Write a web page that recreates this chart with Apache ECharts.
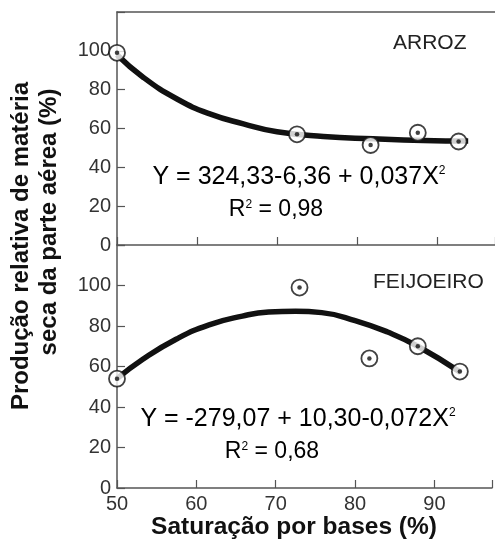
<!DOCTYPE html>
<html>
<head>
<meta charset="utf-8">
<script src="https://cdn.jsdelivr.net/npm/echarts@6/dist/echarts.min.js"></script>
<style>html,body{margin:0;padding:0;background:#fff;}#c{width:495px;height:544px;}</style>
</head>
<body>
<div id="c"></div>
<script>
// Observed points
var arrozX = [50, 72.5, 81.7, 87.6, 92.7];
var arrozY = [99, 57, 51.5, 57.8, 53.3];
var feijX = [50, 73, 81.8, 87.9, 93.2];
var feijY = [54, 99, 64, 70, 57.5];
// Fitted curves
var arrozCurveX = [50, 53.3, 57.5, 61.6, 65.8, 70, 75.8, 82, 88.3, 93.9];
var arrozCurveY = [98, 86.3, 75.2, 67.5, 62.4, 58.3, 55.9, 54.7, 53.8, 53.5];
var feijCurveX = [50, 53.3, 57.5, 61.6, 65.8, 69.1, 72.5, 75.8, 80, 84.1, 87.9, 93.3];
var feijCurveY = [54, 63.7, 73.6, 80.6, 84.9, 86.9, 87.3, 86.6, 82.7, 77, 70, 57.1];
var xTicks = [50, 60, 70, 80, 90];
var yTicks = [0, 20, 40, 60, 80, 100];

function pairs(xs, ys) { return xs.map(function (x, i) { return [x, ys[i]]; }); }

var axisColor = '#555';
var font = 'Liberation Sans';
var chart = echarts.init(document.getElementById('c'));

function yAx(grid) {
  return {
    type: 'value', gridIndex: grid, min: 0, max: 120, interval: 20,
    axisLine: { show: true, lineStyle: { color: axisColor, width: 1.5 } },
    axisTick: { show: true, inside: true, length: 8, lineStyle: { color: axisColor, width: 1.2 } },
    axisLabel: { margin: 6, color: '#333', fontFamily: font, fontSize: 20,
      formatter: function (v) { return yTicks.indexOf(v) >= 0 ? String(v) : ''; } },
    splitLine: { show: false }
  };
}
function xAx(grid, pos, labels, ticks) {
  return {
    type: 'value', gridIndex: grid, position: pos, min: 50, max: 97.25, interval: 10,
    axisLine: { show: true, onZero: false, lineStyle: { color: axisColor, width: 1.5 } },
    axisTick: { show: ticks, inside: true, length: 8, lineStyle: { color: axisColor, width: 1.2 } },
    axisLabel: { show: labels, margin: 6, color: '#333', fontFamily: font, fontSize: 20,
      formatter: function (v) { return xTicks.indexOf(v) >= 0 ? String(v) : ''; } },
    splitLine: { show: false }
  };
}

function markerSeries(xi, yi, data) {
  return [{
    type: 'scatter', xAxisIndex: xi, yAxisIndex: yi, data: data, symbol: 'circle', symbolSize: 16,
    itemStyle: { color: '#fff', borderColor: '#111', borderWidth: 1.8 }, z: 5, silent: true
  }, {
    type: 'scatter', xAxisIndex: xi, yAxisIndex: yi, data: data, symbol: 'circle', symbolSize: 4.5,
    itemStyle: { color: '#111' }, z: 6, silent: true
  }];
}

var richA = { fontFamily: font, fontSize: 25, color: '#222' };
var richR = { fontFamily: font, fontSize: 23, color: '#222' };
var richS = { fontFamily: font, fontSize: 12, verticalAlign: 'top', color: '#222' };

var option = {
  animation: false,
  backgroundColor: '#fff',
  grid: [
    { left: 117, width: 378, top: 12, height: 233 },
    { left: 117, width: 378, top: 245, height: 243 }
  ],
  xAxis: [xAx(0, 'bottom', false, true), xAx(0, 'top', false, false), xAx(1, 'bottom', true, true)],
  yAxis: [yAx(0), yAx(1)],
  series: [
    { type: 'line', xAxisIndex: 0, yAxisIndex: 0, data: pairs(arrozCurveX, arrozCurveY), smooth: true,
      showSymbol: false, lineStyle: { color: '#111', width: 5.5 }, z: 3, silent: true },
    { type: 'line', xAxisIndex: 2, yAxisIndex: 1, data: pairs(feijCurveX, feijCurveY), smooth: true,
      showSymbol: false, lineStyle: { color: '#111', width: 5.5 }, z: 3, silent: true }
  ].concat(markerSeries(0, 0, pairs(arrozX, arrozY)), markerSeries(2, 1, pairs(feijX, feijY))),
  graphic: [
    { type: 'text', left: 393, top: 33, style: { text: 'ARROZ', font: '21px "Liberation Sans"', fill: '#222' } },
    { type: 'text', left: 373, top: 272, style: { text: 'FEIJOEIRO', font: '21px "Liberation Sans"', fill: '#222' } },
    { type: 'text', x: 299, y: 177, style: { text: '{a|Y = 324,33-6,36 + 0,037X}{s|2}', align: 'center', verticalAlign: 'middle',
      rich: { a: richA, s: richS } } },
    { type: 'text', x: 276, y: 210, style: { text: '{a|R}{s|2}{a| = 0,98}', align: 'center', verticalAlign: 'middle',
      rich: { a: richR, s: richS } } },
    { type: 'text', x: 298, y: 419, style: { text: '{a|Y = -279,07 + 10,30-0,072X}{s|2}', align: 'center', verticalAlign: 'middle',
      rich: { a: richA, s: richS } } },
    { type: 'text', x: 272, y: 452, style: { text: '{a|R}{s|2}{a| = 0,68}', align: 'center', verticalAlign: 'middle',
      rich: { a: richR, s: richS } } },
    { type: 'text', x: 21, y: 246, rotation: Math.PI / 2, style: { text: 'Produção relativa de matéria', align: 'center', verticalAlign: 'middle',
      font: 'bold 24px "Liberation Sans"', fill: '#111' } },
    { type: 'text', x: 49, y: 222, rotation: Math.PI / 2, style: { text: 'seca da parte aérea (%)', align: 'center', verticalAlign: 'middle',
      font: 'bold 24px "Liberation Sans"', fill: '#111' } },
    { type: 'text', x: 294, y: 527, style: { text: 'Saturação por bases (%)', align: 'center', verticalAlign: 'middle',
      font: 'bold 24.5px "Liberation Sans"', fill: '#111' } }
  ]
};
chart.setOption(option);
</script>
</body>
</html>
